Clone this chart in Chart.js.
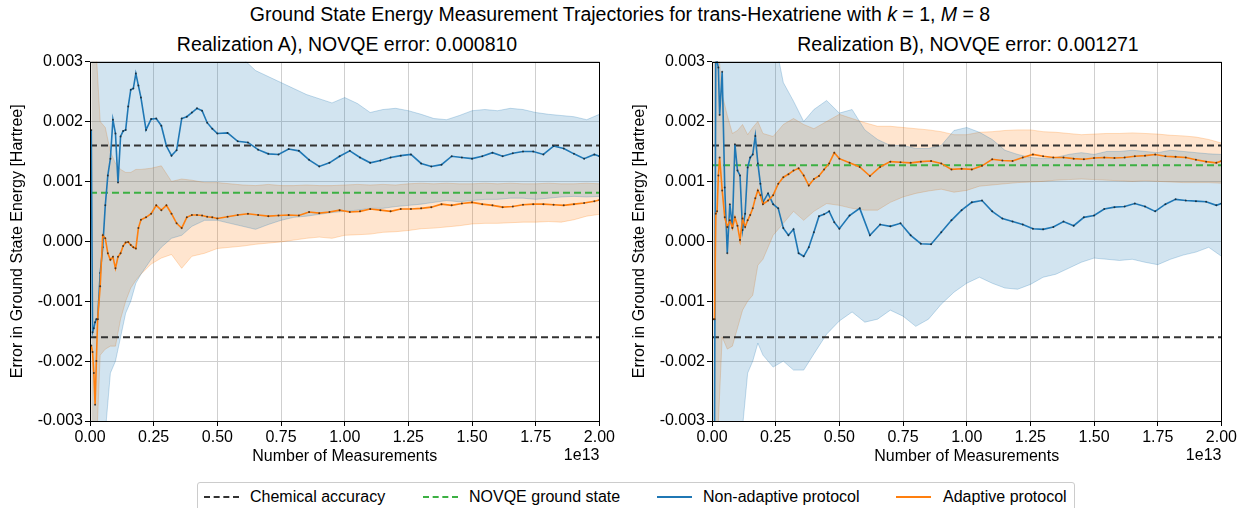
<!DOCTYPE html>
<html>
<head>
<meta charset="utf-8">
<script src="https://cdn.jsdelivr.net/npm/chart.js@4.4.1/dist/chart.umd.min.js"></script>
<style>
  body { margin: 0; background: #fff; font-family: "Liberation Sans", Arial, sans-serif; color: #000; }
  #wrap { position: relative; width: 1241px; height: 508px; overflow: hidden; }
  .t { position: absolute; white-space: nowrap; transform: translateX(-50%); }
  #title { left: 620px; top: 3px; font-size: 19.5px; }
  #subA { left: 347px; top: 33px; font-size: 19.5px; }
  #subB { left: 968px; top: 33px; font-size: 19.5px; }
  canvas { position: absolute; top: 50px; }
  #chartA { left: 0; }
  #chartB { left: 622px; }
  #legend { position: absolute; left: 197px; top: 482px; width: 876px; height: 34px; border: 1px solid #ccc; border-radius: 3px; font-size: 16px; }
  .lab { position: absolute; top: 5px; white-space: nowrap; }
  .sw { position: absolute; top: 13px; width: 35px; height: 0; }
</style>
</head>
<body>
<div id="wrap">
  <div class="t" id="title">Ground State Energy Measurement Trajectories for trans-Hexatriene with <i>k</i> = 1, <i>M</i> = 8</div>
  <div class="t" id="subA">Realization A), NOVQE error: 0.000810</div>
  <div class="t" id="subB">Realization B), NOVQE error: 0.001271</div>
  <canvas id="chartA" width="617" height="420"></canvas>
  <canvas id="chartB" width="617" height="420"></canvas>
  <div id="legend">
    <span class="sw" style="left:6px; border-top:2px dashed #333;"></span>
    <span class="lab" style="left:52px;">Chemical accuracy</span>
    <span class="sw" style="left:225px; border-top:2px dashed #3cb043;"></span>
    <span class="lab" style="left:271px;">NOVQE ground state</span>
    <span class="sw" style="left:459px; border-top:2px solid #1f77b4;"></span>
    <span class="lab" style="left:505px;">Non-adaptive protocol</span>
    <span class="sw" style="left:698px; border-top:2px solid #ff7f0e;"></span>
    <span class="lab" style="left:745px;">Adaptive protocol</span>
  </div>
</div>
<script>
// x in units of 1e13 measurements, energies in mHartree
const xLine = [0.005,0.01,0.015,0.02,0.025,0.03,0.04,0.05,0.06,0.07,0.08,0.09,0.10,0.11,0.12,0.13,0.14,0.15,0.16,0.17,0.18,0.19,0.20,
  0.22,0.24,0.26,0.28,0.30,0.32,0.34,0.36,0.38,0.40,0.42,0.44,0.46,0.48,0.50,
  0.54,0.58,0.62,0.66,0.70,0.74,0.78,0.82,0.86,0.90,0.94,0.98,1.02,1.06,1.10,1.14,1.18,1.22,1.26,1.30,1.34,1.38,1.42,1.46,1.50,1.54,1.58,1.62,1.66,1.70,1.74,1.78,1.82,1.86,1.90,1.94,1.98,2.00];

const xBand = [0.005,0.02,0.04,0.06,0.08,0.10,0.12,0.14,0.16,0.18,0.20,0.24,0.28,0.32,0.36,0.40,
  0.45,0.50,0.55,0.60,0.65,0.70,0.75,0.80,0.85,0.90,0.95,1.00,1.05,1.10,1.15,1.20,1.25,1.30,1.35,1.40,1.45,1.50,1.55,1.60,1.65,1.70,1.75,1.80,1.85,1.90,1.95,2.00];

// realization A
const blueA = [1.86,-1.52,-1.45,-1.35,-1.30,-1.30,
  -0.53,-0.10,0.60,1.10,1.38,2.03,1.80,0.98,1.75,1.84,1.86,2.25,2.53,2.55,2.80,2.60,2.40,
  1.86,2.04,2.05,1.93,1.59,1.43,1.52,2.05,2.08,2.15,2.22,2.18,1.98,1.88,1.80,
  1.81,1.67,1.65,1.53,1.46,1.45,1.54,1.51,1.36,1.25,1.31,1.42,1.51,1.40,1.31,1.35,1.40,1.43,1.45,1.30,1.25,1.28,1.42,1.40,1.38,1.42,1.48,1.42,1.47,1.50,1.50,1.45,1.59,1.55,1.46,1.38,1.45,
  1.42];
const orangeA = [-1.74,-1.85,-2.20,-2.73,-2.00,-1.30,
  -0.75,0.10,0.05,-0.20,-0.31,-0.26,-0.45,-0.26,-0.20,-0.08,-0.02,-0.01,-0.06,-0.10,-0.12,0.22,0.36,
  0.40,0.46,0.60,0.52,0.60,0.46,0.30,0.22,0.40,0.44,0.44,0.43,0.41,0.40,0.38,
  0.41,0.44,0.46,0.44,0.42,0.43,0.44,0.43,0.49,0.47,0.49,0.52,0.49,0.50,0.54,0.52,0.50,0.54,0.54,0.55,0.57,0.62,0.60,0.63,0.65,0.62,0.60,0.57,0.58,0.61,0.62,0.62,0.61,0.60,0.62,0.64,0.67,
  0.69];
const blueHiA = [4,4,4,4,4,4,4,4,4,4,4, 4,4,4,4,4,
  4,4,3.3,3.05,2.85,2.75,2.65,2.55,2.45,2.38,2.31,2.40,2.30,2.15,2.20,2.22,2.18,2.12,2.05,2.03,2.10,2.18,2.20,2.18,2.22,2.20,2.15,2.12,2.10,2.08,2.03,2.12];
const blueLoA = [-4,-4,-3.6,-3.2,-2.2,-2.0,-1.6,-1.2,-1.0,-0.7,-0.55, -0.3,-0.1,0.05,0.1,0.25,
  0.35,0.35,0.30,0.25,0.2,0.28,0.35,0.4,0.42,0.45,0.48,0.5,0.52,0.55,0.55,0.58,0.6,0.62,0.65,0.68,0.66,0.68,0.7,0.7,0.72,0.72,0.7,0.72,0.74,0.75,0.74,0.75];
const orangeHiA = [4.0,3.5,2.0,1.9,1.5,1.3,1.2,1.15,1.15,1.2,1.2, 1.22,1.26,1.0,1.04,1.02,
  0.98,0.98,0.96,0.94,0.93,0.95,0.93,0.93,0.94,0.93,0.93,0.94,0.95,0.94,0.95,0.94,0.96,0.97,0.96,0.97,0.96,0.96,0.97,0.96,0.97,0.96,0.96,0.97,0.96,0.96,0.97,0.96];
const orangeLoA = [-4,-4,-1.9,-1.8,-1.75,-1.75,-1.3,-1.0,-0.78,-0.65,-0.55, -0.38,-0.28,-0.22,-0.45,-0.25,
  -0.2,-0.12,-0.1,-0.08,-0.05,-0.03,-0.01,0.02,0.05,0.07,0.05,0.1,0.11,0.12,0.15,0.16,0.18,0.21,0.22,0.24,0.26,0.29,0.3,0.3,0.31,0.32,0.32,0.33,0.32,0.36,0.42,0.45];

// realization B
const blueB = [-4.0,-3.2,3.4,3.0,2.9,2.11,
  2.83,0.90,-0.20,0.62,0.24,1.62,1.18,1.10,0.19,0.46,1.23,1.40,1.45,1.76,1.30,0.96,0.65,
  0.80,0.62,0.55,0.22,0.10,0.20,-0.20,-0.25,-0.10,0.15,0.42,0.45,0.50,0.32,0.21,
  0.43,0.55,0.10,0.28,0.25,0.30,0.10,-0.04,-0.05,0.15,0.35,0.52,0.65,0.68,0.50,0.38,0.33,0.28,0.21,0.20,0.24,0.33,0.26,0.40,0.43,0.54,0.57,0.58,0.63,0.58,0.50,0.62,0.70,0.68,0.67,0.66,0.60,
  0.63];
const orangeB = [-1.30,-1.30,0.46,0.50,1.10,1.40,
  0.85,0.40,0.24,0.35,0.22,0.40,0.26,0.02,0.38,0.24,0.35,0.44,0.55,0.72,0.85,0.77,0.62,
  0.68,0.77,0.96,1.07,1.12,1.18,1.22,1.10,0.93,1.04,1.09,1.20,1.30,1.48,1.38,
  1.31,1.24,1.09,1.24,1.33,1.32,1.31,1.33,1.34,1.30,1.20,1.21,1.20,1.26,1.37,1.35,1.34,1.40,1.45,1.42,1.40,1.40,1.38,1.37,1.39,1.40,1.39,1.40,1.42,1.43,1.45,1.42,1.41,1.40,1.36,1.33,1.31,
  1.34];
const blueHiB = [4,4,4,4,4,4,4,4,4,4,4, 3.5,2.65,2.34,2.0,2.2,
  2.35,2.14,2.2,1.86,1.7,1.6,1.6,1.55,1.55,1.6,1.85,1.9,1.82,1.70,1.52,1.45,1.4,1.38,1.4,1.45,1.48,1.45,1.5,1.5,1.52,1.5,1.48,1.52,1.5,1.48,1.46,1.45];
const blueLoB = [-4,-4,-4,-4,-4,-3.5,-3.1,-2.2,-2.0,-1.7,-1.9, -2.1,-2.0,-2.15,-2.15,-1.88,
  -1.55,-1.33,-1.18,-1.35,-1.3,-1.15,-1.25,-1.42,-1.3,-1.05,-0.85,-0.70,-0.6,-0.7,-0.78,-0.8,-0.72,-0.6,-0.55,-0.45,-0.35,-0.28,-0.3,-0.32,-0.3,-0.35,-0.39,-0.3,-0.23,-0.18,-0.1,-0.25];
const orangeHiB = [4,3.5,2.45,2.1,1.8,1.85,1.95,1.78,1.9,2.0,1.8, 1.75,1.95,2.05,1.95,1.88,
  2.0,2.12,2.05,1.98,1.92,1.92,1.9,1.88,1.86,1.83,1.78,1.78,1.82,1.83,1.85,1.86,1.86,1.83,1.82,1.80,1.78,1.79,1.80,1.80,1.81,1.80,1.79,1.77,1.76,1.74,1.70,1.64];
const orangeLoB = [-4,-3.5,-1.6,-1.8,-1.75,-1.45,-1.15,-1.0,-0.9,-0.4,-0.3, 0.1,0.3,0.5,0.35,0.5,
  0.63,0.6,0.55,0.52,0.52,0.65,0.74,0.8,0.84,0.87,0.82,0.85,0.92,0.94,0.96,0.98,0.99,1.0,1.02,1.03,1.04,1.03,1.02,1.01,1.0,1.01,1.0,0.99,0.98,0.98,0.98,0.97];

// reference lines (mHartree)
const chemAcc = 1.6;
const novqeA = 0.810;
const novqeB = 1.271;
const xRange = [0, 2];

const BLUE = "#1f77b4", ORANGE = "#ff7f0e", GREEN = "#3cb043", DARK = "#333333";
const FONT = { family: "'Liberation Sans', Arial, sans-serif", size: 16 };

const toPts = (xs, ys) => xs.map((x, i) => ({ x: x, y: ys[i] / 1000 }));
const hline = (v) => xRange.map(x => ({ x: x, y: v / 1000 }));

// spines on all four sides
const framePlugin = {
    id: "frame",
    afterDatasetsDraw(chart) {
        const a = chart.chartArea, ctx = chart.ctx;
        ctx.save();
        ctx.strokeStyle = "#000";
        ctx.lineWidth = 1;
        ctx.strokeRect(Math.round(a.left) + 0.5, Math.round(a.top) + 0.5, Math.round(a.right - a.left), Math.round(a.bottom - a.top));
        ctx.restore();
    }
};

// matplotlib style offset text under the right end of the x axis
const offsetPlugin = {
    id: "offsetText",
    afterDraw(chart) {
        const ctx = chart.ctx;
        ctx.save();
        ctx.font = "16px 'Liberation Sans', Arial, sans-serif";
        ctx.fillStyle = "#000";
        ctx.textAlign = "right";
        ctx.textBaseline = "middle";
        ctx.fillText("1e13", chart.chartArea.right, chart.chartArea.bottom + 35);
        ctx.restore();
    }
};

function lineSet(data, color) {
    return {
        data: data, borderColor: color, borderWidth: 1.6, tension: 0,
        pointRadius: 1, pointBorderWidth: 0, pointBackgroundColor: "rgba(20,20,20,0.7)",
        fill: false, order: 0
    };
}

function dashSet(data, color) {
    return { data: data, borderColor: color, borderWidth: 2, borderDash: [7, 4], pointRadius: 0, fill: false, order: 1 };
}

function bandSet(data, rgb, fill) {
    return {
        data: data, borderColor: "rgba(" + rgb + ",0.25)", borderWidth: 1, pointRadius: 0,
        backgroundColor: "rgba(" + rgb + ",0.2)", fill: fill, order: 2
    };
}

function makeChart(id, blue, orange, bHi, bLo, oHi, oLo, novqe) {
    new Chart(document.getElementById(id), {
        type: "line",
        data: {
            datasets: [
                lineSet(toPts(xLine, orange), ORANGE),
                lineSet(toPts(xLine, blue), BLUE),
                dashSet(hline(chemAcc), DARK),
                dashSet(hline(-chemAcc), DARK),
                dashSet(hline(novqe), GREEN),
                bandSet(toPts(xBand, bHi), "31,119,180", "+1"),
                bandSet(toPts(xBand, bLo), "31,119,180", false),
                bandSet(toPts(xBand, oHi), "255,127,14", "+1"),
                bandSet(toPts(xBand, oLo), "255,127,14", false)
            ]
        },
        options: {
            responsive: false,
            animation: false,
            devicePixelRatio: 1,
            layout: { padding: { top: 8, right: 16, left: 0, bottom: 0 } },
            plugins: { legend: { display: false }, tooltip: { enabled: false } },
            scales: {
                x: {
                    type: "linear", min: 0, max: 2,
                    afterFit: (s) => { s.height = 49; },
                    ticks: { stepSize: 0.25, color: "#000", font: FONT, padding: 2, maxRotation: 0,
                        callback: (v) => v.toFixed(2) },
                    grid: { color: "#cfcfcf", tickColor: "#000", tickLength: 5 },
                    border: { display: false },
                    title: { display: true, text: "Number of Measurements", color: "#000", font: FONT, padding: { top: 0, bottom: 4 } }
                },
                y: {
                    min: -0.003, max: 0.003,
                    afterFit: (s) => { s.width = 90; },
                    ticks: { stepSize: 0.001, color: "#000", font: FONT, padding: 2,
                        callback: (v) => v.toFixed(3) },
                    grid: { color: "#cfcfcf", tickColor: "#000", tickLength: 5 },
                    border: { display: false },
                    title: { display: true, text: "Error in Ground State Energy [Hartree]", color: "#000", font: FONT, padding: { top: 8, bottom: 0 } }
                }
            }
        },
        plugins: [framePlugin, offsetPlugin]
    });
}

makeChart("chartA", blueA, orangeA, blueHiA, blueLoA, orangeHiA, orangeLoA, novqeA);
makeChart("chartB", blueB, orangeB, blueHiB, blueLoB, orangeHiB, orangeLoB, novqeB);
</script>
</body>
</html>
